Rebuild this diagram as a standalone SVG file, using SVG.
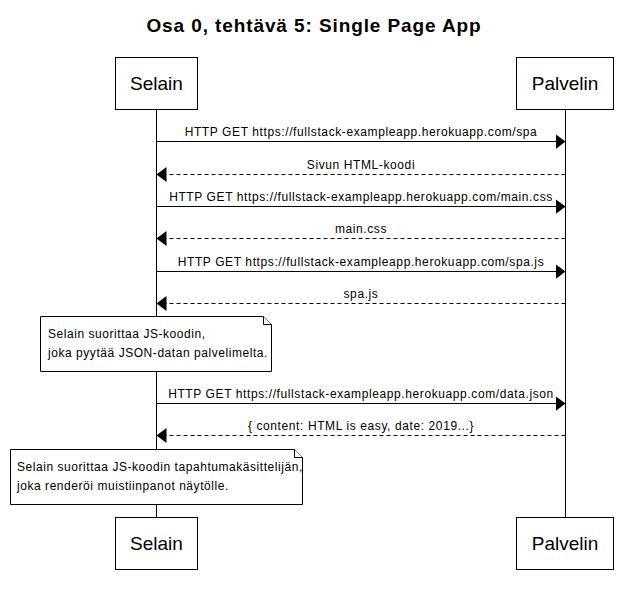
<svg xmlns="http://www.w3.org/2000/svg" width="628" height="594" viewBox="0 0 628 594">
<style>
text{font-family:"Liberation Sans",Arial,sans-serif;fill:#000}
.title{font-size:19px;font-weight:bold;text-anchor:middle;letter-spacing:0.9px}
.actor rect{fill:#fff;stroke:#000;stroke-width:1}
.actor text{font-size:19px;text-anchor:middle}
.life{stroke:#000;stroke-width:1;fill:none}
.msg{stroke:#000;stroke-width:1;fill:none}
.dash{stroke-dasharray:4,3}
.mt{font-size:12px;text-anchor:middle;letter-spacing:0.6px}
.note path{fill:#fff;stroke:#000;stroke-width:1}
.note text{font-size:12px;letter-spacing:0.55px}
</style>
<defs>
<marker id="ah" markerUnits="userSpaceOnUse" markerWidth="12" markerHeight="16" refX="10" refY="8" orient="auto">
<path d="M0,0.5 L10,8 L0,15.5 Z" fill="#000"/>
</marker>
</defs>
<text class="title" x="314" y="32">Osa 0, tehtävä 5: Single Page App</text>
<g id="lifelines">
<line class="life" x1="156.5" y1="110" x2="156.5" y2="517"/>
<line class="life" x1="565.5" y1="110" x2="565.5" y2="517"/>
</g>
<g id="selain-top" class="actor"><rect x="115.5" y="57.5" width="82" height="52"/><text x="156.5" y="90">Selain</text></g>
<g id="palvelin-top" class="actor"><rect x="516.5" y="57.5" width="97" height="52"/><text x="565" y="90">Palvelin</text></g>
<g id="selain-bottom" class="actor"><rect x="115.5" y="517.5" width="82" height="52"/><text x="156.5" y="550">Selain</text></g>
<g id="palvelin-bottom" class="actor"><rect x="516.5" y="517.5" width="97" height="52"/><text x="565" y="550">Palvelin</text></g>
<g id="connectors">
<line class="msg" x1="156.5" y1="141.5" x2="565.5" y2="141.5" marker-end="url(#ah)"/>
<text class="mt" x="361" y="136">HTTP GET https://fullstack-exampleapp.herokuapp.com/spa</text>
<line class="msg dash" x1="565.5" y1="174.5" x2="156.5" y2="174.5" marker-end="url(#ah)"/>
<text class="mt" x="361" y="169">Sivun HTML-koodi</text>
<line class="msg" x1="156.5" y1="206.5" x2="565.5" y2="206.5" marker-end="url(#ah)"/>
<text class="mt" x="361" y="201">HTTP GET https://fullstack-exampleapp.herokuapp.com/main.css</text>
<line class="msg dash" x1="565.5" y1="238.5" x2="156.5" y2="238.5" marker-end="url(#ah)"/>
<text class="mt" x="361" y="233">main.css</text>
<line class="msg" x1="156.5" y1="271.5" x2="565.5" y2="271.5" marker-end="url(#ah)"/>
<text class="mt" x="361" y="266">HTTP GET https://fullstack-exampleapp.herokuapp.com/spa.js</text>
<line class="msg dash" x1="565.5" y1="303.5" x2="156.5" y2="303.5" marker-end="url(#ah)"/>
<text class="mt" x="361" y="298">spa.js</text>
<line class="msg" x1="156.5" y1="403.5" x2="565.5" y2="403.5" marker-end="url(#ah)"/>
<text class="mt" x="361" y="398">HTTP GET https://fullstack-exampleapp.herokuapp.com/data.json</text>
<line class="msg dash" x1="565.5" y1="435.5" x2="156.5" y2="435.5" marker-end="url(#ah)"/>
<text class="mt" x="361" y="430">{ content: HTML is easy, date: 2019...}</text>
</g>
<g id="note1" class="note">
<path d="M40.5,316.5 L263.5,316.5 L271.5,324.5 L271.5,371.5 L40.5,371.5 Z"/>
<path d="M263.5,316.5 L263.5,324.5 L271.5,324.5"/>
<text x="48" y="338">Selain suorittaa JS-koodin,</text>
<text x="48" y="357">joka pyytää JSON-datan palvelimelta.</text>
</g>
<g id="note2" class="note">
<path d="M10.5,449.5 L294.5,449.5 L302.5,457.5 L302.5,504.5 L10.5,504.5 Z"/>
<path d="M294.5,449.5 L294.5,457.5 L302.5,457.5"/>
<text x="17" y="471">Selain suorittaa JS-koodin tapahtumakäsittelijän,</text>
<text x="17" y="490">joka renderöi muistiinpanot näytölle.</text>
</g>
</svg>
